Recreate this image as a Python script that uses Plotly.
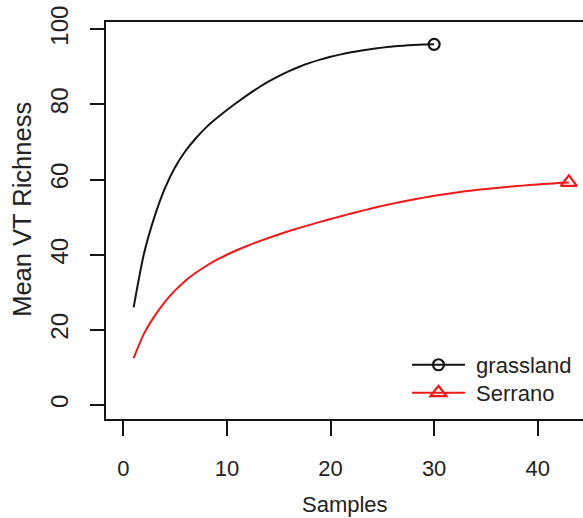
import plotly.graph_objects as go

# Species accumulation (mean VT richness vs number of samples)
grassland_samples = list(range(1, 31))
grassland_richness = [26.0, 40.3, 50.0, 57.6, 63.3, 67.6, 71.0, 73.9, 76.3, 78.5,
                      80.57, 82.54, 84.37, 86.05, 87.55, 88.88, 90.04, 91.05, 91.92, 92.67,
                      93.32, 93.88, 94.36, 94.77, 95.12, 95.41, 95.64, 95.81, 95.93, 96.0]

serrano_samples = list(range(1, 44))
serrano_richness = [12.5, 19.0, 23.6, 27.4, 30.5, 33.1, 35.2, 37.0, 38.6, 40.0,
                    41.25, 42.4, 43.45, 44.45, 45.4, 46.3, 47.15, 47.95, 48.75, 49.5,
                    50.25, 50.97, 51.67, 52.35, 53.0, 53.6, 54.17, 54.7, 55.2, 55.67,
                    56.1, 56.5, 56.87, 57.2, 57.5, 57.78, 58.04, 58.28, 58.5, 58.7,
                    58.89, 59.07, 59.25]

x_ticks = [0, 10, 20, 30, 40]
y_ticks = [0, 20, 40, 60, 80, 100]

FONT = "Liberation Sans, Arial, sans-serif"
TEXT = "#222222"
BLACK = "#141414"
RED = "#f01818"

fig = go.Figure()

# accumulation curves
fig.add_trace(go.Scatter(x=grassland_samples, y=grassland_richness, mode="lines",
                         line=dict(color=BLACK, width=2, shape="spline", smoothing=0.8),
                         showlegend=False, hoverinfo="skip"))
fig.add_trace(go.Scatter(x=serrano_samples, y=serrano_richness, mode="lines",
                         line=dict(color=RED, width=2, shape="spline", smoothing=0.8),
                         showlegend=False, hoverinfo="skip"))

# end-point markers, each with its own legend box
fig.add_trace(go.Scatter(x=[grassland_samples[-1]], y=[grassland_richness[-1]],
                         mode="lines+markers", name="\u00a0grassland", legend="legend",
                         line=dict(color=BLACK, width=2),
                         marker=dict(symbol="circle-open", size=11, color=BLACK,
                                     line=dict(width=2.2, color=BLACK))))
fig.add_trace(go.Scatter(x=[serrano_samples[-1]], y=[serrano_richness[-1]],
                         mode="lines+markers", name="\u00a0Serrano", legend="legend2",
                         line=dict(color=RED, width=2),
                         marker=dict(symbol="triangle-up-open", size=14, color=RED,
                                     line=dict(width=2.2, color=RED))))

legend_style = dict(xanchor="left", yanchor="top", bgcolor="rgba(0,0,0,0)",
                    itemwidth=53, font=dict(size=22, color=TEXT))

fig.update_layout(
    width=583, height=518,
    margin=dict(l=106, r=0, t=22, b=99),
    plot_bgcolor="white", paper_bgcolor="white",
    font=dict(family=FONT, size=22, color=TEXT),
    showlegend=True,
    legend=dict(x=0.631, y=0.189, **legend_style),
    legend2=dict(x=0.631, y=0.1186, **legend_style),
    xaxis=dict(range=[-1.67, 44.37], tickmode="array", tickvals=x_ticks,
               showgrid=False, zeroline=False, showline=True, mirror=True,
               linecolor=BLACK, linewidth=2, ticks="outside", ticklen=15,
               tickwidth=2, tickcolor=BLACK, ticklabelstandoff=14),
    yaxis=dict(range=[-3.72, 101.94], tickmode="array", tickvals=y_ticks,
               showgrid=False, zeroline=False, showline=True, mirror=False,
               linecolor=BLACK, linewidth=2, ticks="outside", ticklen=14,
               tickwidth=2, tickcolor=BLACK, tickangle=-90, ticklabelstandoff=12,
               tickfont=dict(size=24)),
    annotations=[
        dict(text="Samples", xref="paper", yref="paper", x=0.5, y=-0.215,
             xanchor="center", yanchor="middle", showarrow=False,
             font=dict(size=22, color=TEXT)),
        dict(text="Mean VT Richness", xref="paper", yref="paper", x=-0.176, y=0.527,
             xanchor="center", yanchor="middle", showarrow=False, textangle=-90,
             font=dict(size=25.5, color=TEXT)),
    ],
)

fig.write_html("out.html")
